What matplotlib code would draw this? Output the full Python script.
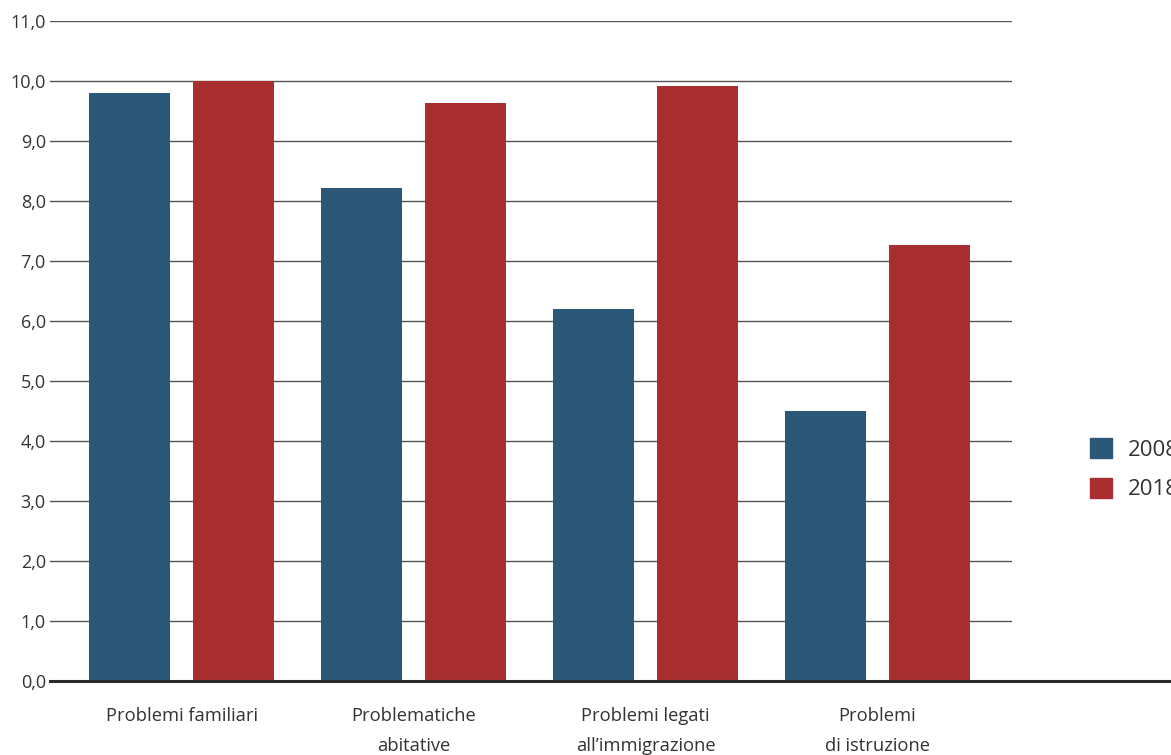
import numpy as np
import matplotlib.pyplot as plt
from matplotlib.patches import Patch

categories = ["Problemi familiari", "Problematiche\nabitative",
              "Problemi legati\nall\u2019immigrazione", "Problemi\ndi istruzione"]
years = ["2008", "2018"]
values_2008 = [9.8, 8.22, 6.2, 4.5]
values_2018 = [10.0, 9.63, 9.92, 7.27]
yticks = np.arange(0, 12, 1)

c2008 = "#2C5777"
c2018 = "#A82E2F"
txt = "#333333"

plt.rcParams["font.family"] = ["Open Sans", "DejaVu Sans"]

fig = plt.figure(figsize=(11.71, 7.55), dpi=100)
ax = fig.add_axes([50 / 1171, 74 / 755, (1012 - 50) / 1171, (681 - 21) / 755])

x = np.arange(len(categories))
w = 0.349
off = 0.224
ax.bar(x - off, values_2008, w, color=c2008, zorder=3)
ax.bar(x + off, values_2018, w, color=c2018, zorder=3)

ax.set_xlim(-0.567, 3.58)
ax.set_ylim(0, 11)
ax.set_yticks(yticks)
ax.set_yticklabels([f"{v:.1f}".replace(".", ",") for v in yticks])
ax.set_xticks(x)
ax.set_xticklabels(categories, linespacing=1.8)

for v in yticks[1:]:
    ax.axhline(v, color="#555555", lw=1, zorder=1)
# baseline running to the right edge
ax.plot([0, 1.166], [0, 0], transform=ax.transAxes, color="#2a2a2a",
        lw=2.2, clip_on=False, zorder=4)

for s in ax.spines.values():
    s.set_visible(False)
ax.tick_params(axis="y", length=0, pad=3, labelsize=13, labelcolor=txt)
ax.tick_params(axis="x", length=0, pad=19, labelsize=13.2, labelcolor=txt)

handles = [Patch(color=c2008), Patch(color=c2018)]
fig.legend(handles, years, loc="upper left", bbox_to_anchor=(1090 / 1171, 1 - 438 / 755),
           frameon=False, fontsize=16, handlelength=1.0, handleheight=1.0,
           handletextpad=0.72, labelspacing=0.78, borderpad=0, borderaxespad=0,
           labelcolor=txt)

fig.savefig("out.png", dpi=100)
